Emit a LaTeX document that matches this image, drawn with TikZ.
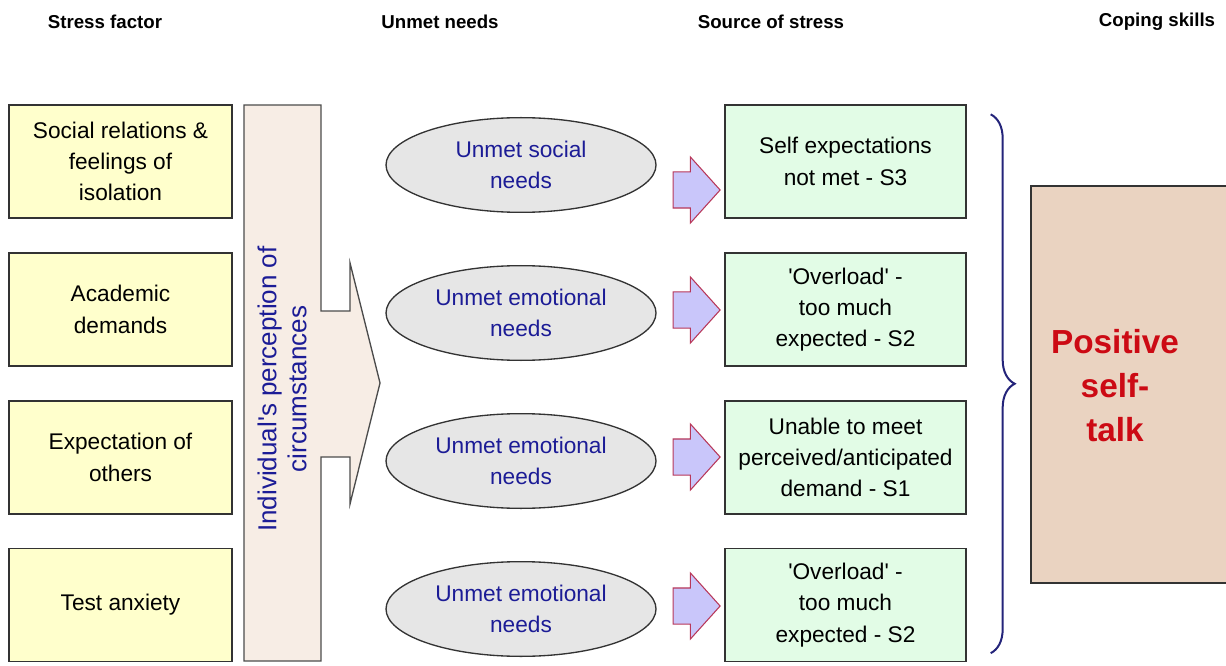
\documentclass[tikz,border=0pt]{standalone}
\usepackage{fontspec}
\defaultfontfeatures[\rmfamily]{}
\setmainfont{Liberation Sans}
\usetikzlibrary{shapes.geometric, shapes.arrows, decorations.pathreplacing, calc}

\definecolor{factorfill}{HTML}{FFFFCC}
\definecolor{barfill}{HTML}{F7EDE5}
\definecolor{needfill}{HTML}{E6E6E6}
\definecolor{needtext}{HTML}{1C1C96}
\definecolor{sourcefill}{HTML}{E2FCE6}
\definecolor{talkfill}{HTML}{EAD3C1}
\definecolor{talktext}{HTML}{CC0A14}
\definecolor{arrowfill}{HTML}{C9C6FA}
\definecolor{arrowline}{HTML}{B8385A}
\definecolor{bracecol}{HTML}{24247A}

\begin{document}
\begin{tikzpicture}[x=0.75pt, y=-0.75pt,
        header/.style={font=\bfseries\fontsize{14}{16}\selectfont},
        body/.style={align=center, font=\fontsize{17}{23.5}\selectfont},
        factor/.style={body, draw=black!80, line width=1pt, fill=factorfill, minimum width=167.25pt, minimum height=84.75pt},
        need/.style={body, ellipse, draw=black!80, line width=1pt, fill=needfill, text=needtext, minimum width=202.5pt, minimum height=71pt, inner sep=0pt},
        source/.style={body, draw=black!80, line width=1pt, fill=sourcefill, minimum width=180.75pt, minimum height=84.75pt},
        blockarrow/.style={single arrow, draw=arrowline, fill=arrowfill, line width=0.8pt, minimum height=35.25pt, single arrow head extend=11.25pt, single arrow tip angle=96, inner xsep=0pt, inner ysep=13.125pt}]
        \useasboundingbox (0, 0) rectangle (1226, 666);
        \clip (0, 0) rectangle (1226, 666);

        % column heads
        \node[header] (h1) at (105, 22) {Stress factor};
        \node[header] (h2) at (440, 22) {Unmet needs};
        \node[header] (h3) at (771, 22) {Source of stress};
        \node[header] (h4) at (1157, 22) {Coping skills};

        % stress factors
        \node[factor] (f1) at (120.5, 161.5) {Social relations \&\\feelings of\\isolation};
        \node[factor] (f2) at (120.5, 309.5) {Academic\\demands};
        \node[factor] (f3) at (120.5, 457.5) {Expectation of\\others};
        \node[factor] (f4) at (120.5, 605) {Test anxiety};

        % perception bar with arrow head
        \draw[line width=1pt, draw=black!70, fill=barfill] (244, 105) -- (321, 105) -- (321, 311) -- (350, 311) -- (350, 263)
            -- (380, 383) -- (350, 504) -- (350, 457) -- (321, 457) -- (321, 661) -- (244, 661) -- cycle;
        \node[align=center, rotate=90, text=needtext, font=\fontsize{19.5}{22.5}\selectfont] (percep) at (282, 389) {Individual's perception of\\circumstances};

        % unmet needs
        \node[need] (n1) at (521, 165) {Unmet social\\needs};
        \node[need] (n2) at (521, 313) {Unmet emotional\\needs};
        \node[need] (n3) at (521, 461) {Unmet emotional\\needs};
        \node[need] (n4) at (521, 609) {Unmet emotional\\needs};

        % sources of stress
        \node[source] (s1) at (845.5, 161.5) {Self expectations\\not met - S3};
        \node[source] (s2) at (845.5, 309.5) {'Overload' -\\too much\\expected - S2};
        \node[source] (s3) at (845.5, 457.5) {Unable to meet\\perceived/anticipated\\demand - S1};
        \node[source] (s4) at (845.5, 605) {'Overload' -\\too much\\expected - S2};

        \node[blockarrow] (a1) at (688.5, 190) {};
        \node[blockarrow] (a2) at (688.5, 310) {};
        \node[blockarrow] (a3) at (688.5, 457) {};
        \node[blockarrow] (a4) at (688.5, 606) {};

        % coping skill
        \coordinate (bt) at ($(s1.north east)+(24, 10)$);
        \coordinate (bb) at ($(s4.south east)+(24, -9)$);
        \draw[bracecol, line width=1.5pt, decorate, decoration={brace, amplitude=18pt}] (bt) -- (bb);

        \node[draw=black!80, line width=1pt, fill=talkfill, minimum width=156.75pt, minimum height=297.75pt] (talkbox) at (1135.5, 384.5) {};
        \node[align=center, text=talktext, font=\bfseries\fontsize{25}{33}\selectfont] (talk) at (1115, 386) {Positive\\self-\\talk};
    \end{tikzpicture}
\end{document}
